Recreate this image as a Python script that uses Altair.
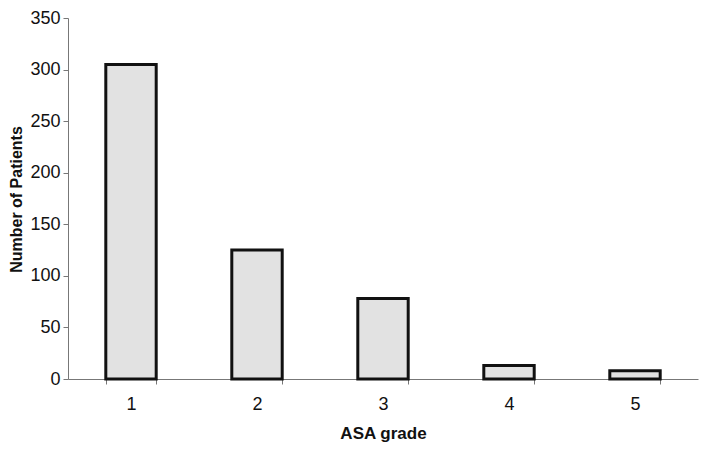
import altair as alt
import pandas as pd

grades = ["1", "2", "3", "4", "5"]
patients = [305, 125, 78, 13, 8]
y_ticks = [0, 50, 100, 150, 200, 250, 300, 350]

df = pd.DataFrame({"grade": grades, "patients": patients})

FONT = "Liberation Sans"

chart = alt.Chart(df).mark_bar(
    fill="#e2e2e2", stroke="#111111", strokeWidth=3
).encode(
    x=alt.X(
        "grade:N",
        sort=grades,
        scale=alt.Scale(paddingInner=0.6, paddingOuter=0.3),
        axis=alt.Axis(
            title="ASA grade",
            labelAngle=0,
            labelFontSize=18,
            labelFont=FONT,
            labelColor="#111111",
            labelPadding=11,
            tickBand="extent",
            tickSize=5,
            tickColor="#777777",
            domainColor="#777777",
            titleFont=FONT,
            titleFontSize=17,
            titleFontWeight="bold",
            titleColor="#111111",
            titleY=54,
            titleBaseline="middle",
        ),
    ),
    y=alt.Y(
        "patients:Q",
        scale=alt.Scale(domain=[0, 350], nice=False),
        axis=alt.Axis(
            title="Number of Patients",
            values=y_ticks,
            grid=False,
            labelFontSize=18,
            labelFont=FONT,
            labelColor="#111111",
            labelPadding=3,
            tickSize=5,
            tickColor="#777777",
            domainColor="#777777",
            titleFont=FONT,
            titleFontSize=16,
            titleFontWeight="bold",
            titleColor="#111111",
            titleAngle=270,
            titleX=-52,
            titleY=181,
            titleAlign="center",
            titleBaseline="middle",
        ),
    ),
).properties(
    width=630,
    height=361,
    autosize=alt.AutoSizeParams(type="none"),
    padding={"left": 60, "top": 10, "right": 14, "bottom": 64},
    background="white",
).configure_view(stroke=None)

chart.save("out.html", embed_options={"renderer": "svg", "actions": False})
